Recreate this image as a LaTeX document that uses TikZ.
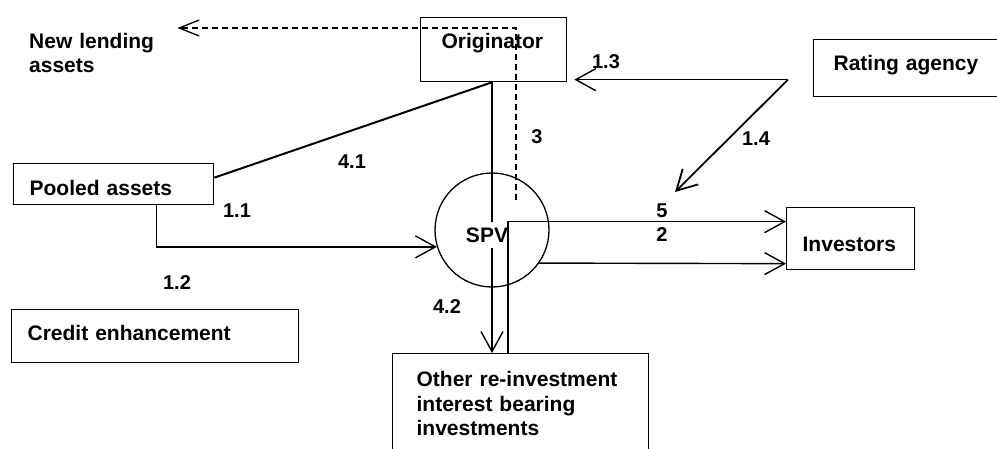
\documentclass[tikz,border=0pt]{standalone}
\usepackage{fontspec}
\setmainfont{Liberation Sans}
\usetikzlibrary{arrows.meta}
\begin{document}
\begin{tikzpicture}[x=1pt,y=-1pt,
  boxtxt/.style={font=\fontsize{21}{24.5}\selectfont\bfseries},
  box/.style={draw, line width=1.3pt, rectangle, anchor=north west, align=left, inner ysep=0pt, boxtxt},
  lbl/.style={font=\fontsize{20}{22}\selectfont\bfseries, inner sep=0pt},
  conn/.style={line width=1.4pt},
  arr/.style={conn, -{Straight Barb[length=20pt,width=22pt]}},
  darr/.style={line width=1.3pt, dash pattern=on 6pt off 4pt, -{Straight Barb[length=20pt,width=16pt]}},
]
\useasboundingbox (0,0) rectangle (997,448);
\clip (0,0) rectangle (997,448);

% boxes
\node[box, inner xsep=21pt, text width=104pt, text height=30.5pt, text depth=33.5pt] (orig) at (420,17) {Originator};
\node[box, inner xsep=20pt, text width=180pt, text height=31pt, text depth=26pt] (ra) at (813,39) {Rating agency};
\node[box, inner xsep=16pt, text width=168pt, text height=31.5pt, text depth=9.5pt] (pooled) at (13,163) {Pooled assets};
\node[box, inner xsep=16pt, text width=255pt, text height=30.5pt, text depth=22.5pt] (credit) at (11,309) {Credit enhancement};
\node[box, inner xsep=16pt, text width=96pt, text height=43.5pt, text depth=18.5pt] (inv) at (786,207) {Investors};
\node[box, inner xsep=24pt, text width=208pt, inner ysep=17.7pt] (other) at (392,353) {Other re-investment\\interest bearing\\investments};
\node[boxtxt, anchor=north west, inner xsep=0pt, inner ysep=4.7pt, text width=148pt, align=left] (newlend) at (29,28) {New lending\\assets};

% SPV
\node[circle, draw, line width=1.3pt, minimum size=114pt, inner sep=0pt] (spv) at (492,230) {};
\node[boxtxt, inner xsep=0pt, inner ysep=5pt] (spvt) at (487,235) {SPV};

% connectors
\draw[conn, line width=2pt] (spv.center |- orig.south) -- ([yshift=6.5pt]pooled.east);
\draw[conn] (spv.center |- orig.south) -- (spv.center |- spvt.north);
\draw[arr] (spv.center |- spvt.south) -- (spv.center |- other.north);
\draw[arr] ([xshift=43pt]pooled.south) |- (spv.197);
\coordinate (rv) at ([shift={(-25pt,-11.5pt)}]ra.west);
\coordinate (p14) at (675,192);
\draw[arr] (rv) -- ([shift={(7pt,-30pt)}]orig.east);
\draw[arr, line width=1.8pt] (rv) -- (p14);
\draw[arr] ([xshift=116pt]other.north west) |- ([yshift=17pt]inv.west);
\draw[arr] (spv.-35.4) -- ([yshift=-25pt]inv.west);
\coordinate (d0) at (516,200);
\draw[darr] (d0) |- (newlend.north east);

% labels
\node[lbl] (l13) at (606,62) {1.3};
\node[lbl] (l14) at (756,139) {1.4};
\node[lbl] (l3) at (537,137) {3};
\node[lbl] (l41) at (352,162) {4.1};
\node[lbl] (l11) at (237,211) {1.1};
\node[lbl] (l12) at (177,283) {1.2};
\node[lbl] (l42) at (447,307) {4.2};
\node[lbl] (l5) at (662,211) {5};
\node[lbl] (l2) at (662,235) {2};
\end{tikzpicture}
\end{document}
